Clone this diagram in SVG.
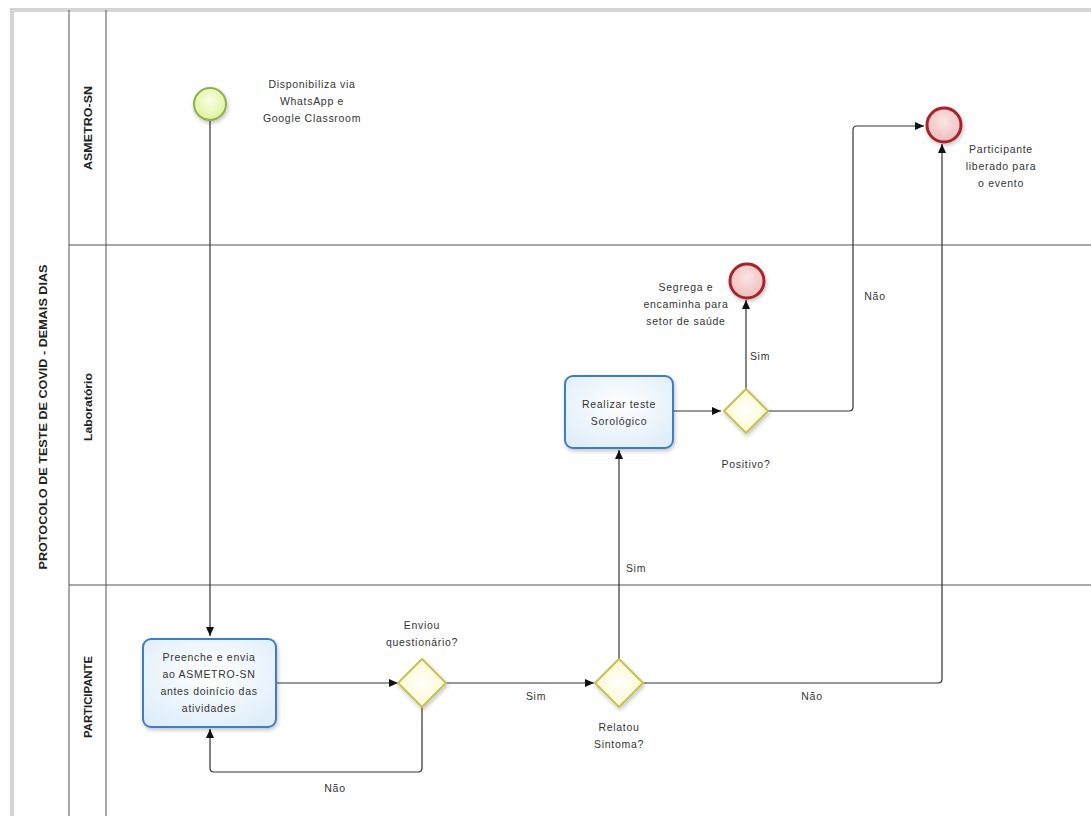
<svg xmlns="http://www.w3.org/2000/svg" width="1091" height="816" viewBox="0 0 1091 816">
<style>
text{font-family:"Liberation Sans",Arial,sans-serif;font-size:10.5px;fill:#333;text-anchor:middle;letter-spacing:0.7px}
.lbl{font-weight:bold;font-size:10px;fill:#222;letter-spacing:0}
.lane{stroke:#555;stroke-width:1;fill:none}
.conn{stroke:#333;stroke-width:1.2;fill:none}
.task{fill:url(#tg);stroke:#3f7fbf;stroke-width:2}
.gw{fill:url(#gg);stroke:#c2c25a;stroke-width:2}
.end{fill:url(#eg);stroke:#a3262c;stroke-width:3}
.start{fill:url(#sg);stroke:#8db14c;stroke-width:2}
</style>
<defs>
<marker id="arr" markerWidth="10" markerHeight="10" refX="9" refY="5" orient="auto" markerUnits="userSpaceOnUse">
<path d="M0,1 L9,5 L0,9 Z" fill="#111"/>
</marker>
<radialGradient id="tg" cx="50%" cy="40%" r="70%"><stop offset="0" stop-color="#ffffff"/><stop offset="1" stop-color="#deedf9"/></radialGradient>
<radialGradient id="gg" cx="50%" cy="50%" r="60%"><stop offset="0" stop-color="#ffffff"/><stop offset="1" stop-color="#fbf8c2"/></radialGradient>
<radialGradient id="eg" cx="50%" cy="40%" r="60%"><stop offset="0" stop-color="#fbe4e4"/><stop offset="1" stop-color="#f1bcbc"/></radialGradient>
<radialGradient id="sg" cx="50%" cy="40%" r="60%"><stop offset="0" stop-color="#fbfde8"/><stop offset="1" stop-color="#ddf29a"/></radialGradient>
<filter id="sh" x="-30%" y="-30%" width="160%" height="160%"><feGaussianBlur in="SourceAlpha" stdDeviation="2"/><feOffset dx="1" dy="2"/><feComponentTransfer><feFuncA type="linear" slope="0.25"/></feComponentTransfer><feMerge><feMergeNode/><feMergeNode in="SourceGraphic"/></feMerge></filter>
</defs>
<rect x="0" y="0" width="1091" height="816" fill="#fff"/>
<g id="pool">
<path d="M1091,10 H12 V816" fill="none" stroke="#aaa" stroke-width="3"/>
<path d="M1091,10 H12 V816" fill="none" stroke="#fff" stroke-width="1"/>
<line class="lane" x1="69" y1="10" x2="69" y2="816"/>
<line class="lane" x1="106" y1="10" x2="106" y2="816" stroke="#888"/>
<line class="lane" x1="69" y1="245" x2="1091" y2="245"/>
<line class="lane" x1="69" y1="585" x2="1091" y2="585"/>
<text class="lbl" transform="translate(47,417) rotate(-90)" textLength="305" lengthAdjust="spacingAndGlyphs">PROTOCOLO DE TESTE DE COVID - DEMAIS DIAS</text>
<text class="lbl" transform="translate(92,128) rotate(-90)" textLength="84" lengthAdjust="spacingAndGlyphs">ASMETRO-SN</text>
<text class="lbl" transform="translate(92,407) rotate(-90)" textLength="68" lengthAdjust="spacingAndGlyphs">Laboratório</text>
<text class="lbl" transform="translate(92,697) rotate(-90)" textLength="82" lengthAdjust="spacingAndGlyphs">PARTICIPANTE</text>
</g>
<g id="connectors">
<path class="conn" d="M210,121 V636" marker-end="url(#arr)"/>
<path class="conn" d="M276,683 H398" marker-end="url(#arr)"/>
<path class="conn" d="M422,706 V768 Q422,772 418,772 H214 Q210,772 210,768 V729" marker-end="url(#arr)"/>
<text x="335" y="792">Não</text>
<path class="conn" d="M446,683 H594" marker-end="url(#arr)"/>
<text x="536" y="700">Sim</text>
<path class="conn" d="M619,659 V450" marker-end="url(#arr)"/>
<text x="636" y="572">Sim</text>
<path class="conn" d="M643,683 H938 Q942,683 942,679 V144" marker-end="url(#arr)"/>
<text x="812" y="700">Não</text>
<path class="conn" d="M673,411 H721" marker-end="url(#arr)"/>
<path class="conn" d="M746,389 V300" marker-end="url(#arr)"/>
<text x="760" y="360">Sim</text>
<path class="conn" d="M768,411 H849 Q853,411 853,407 V130 Q853,126 857,126 H924" marker-end="url(#arr)"/>
<text x="875" y="300">Não</text>
</g>
<g id="start">
<circle class="start" cx="210" cy="104" r="16" filter="url(#sh)"/>
<text x="312" y="88">Disponibiliza  via</text>
<text x="312" y="105">WhatsApp e</text>
<text x="312" y="122">Google Classroom</text>
</g>
<g id="task1">
<rect class="task" x="143" y="639" width="133" height="88" rx="8" filter="url(#sh)"/>
<text x="209" y="661">Preenche  e envia</text>
<text x="209" y="678">ao ASMETRO-SN</text>
<text x="209" y="695">antes doinício das</text>
<text x="209" y="712">atividades</text>
</g>
<g id="gw1">
<path class="gw" d="M422,659 L446,683 L422,707 L398,683 Z" filter="url(#sh)"/>
<text x="422" y="629">Enviou</text>
<text x="422" y="646">questionário?</text>
</g>
<g id="gw2">
<path class="gw" d="M619,659 L643,683 L619,707 L595,683 Z" filter="url(#sh)"/>
<text x="619" y="731">Relatou</text>
<text x="619" y="748">Sintoma?</text>
</g>
<g id="task2">
<rect class="task" x="565" y="376" width="108" height="72" rx="8" filter="url(#sh)"/>
<text x="619" y="408">Realizar teste</text>
<text x="619" y="425">Sorológico</text>
</g>
<g id="gw3">
<path class="gw" d="M746,389 L768,411 L746,433 L724,411 Z" filter="url(#sh)"/>
<text x="746" y="468">Positivo?</text>
</g>
<g id="end2">
<circle class="end" cx="747" cy="281" r="17" filter="url(#sh)"/>
<text x="686" y="291">Segrega e</text>
<text x="686" y="308">encaminha para</text>
<text x="686" y="325">setor de saúde</text>
</g>
<g id="end1">
<circle class="end" cx="944" cy="125" r="17" filter="url(#sh)"/>
<text x="1001" y="153">Participante</text>
<text x="1001" y="170">liberado para</text>
<text x="1001" y="187">o evento</text>
</g>
</svg>
